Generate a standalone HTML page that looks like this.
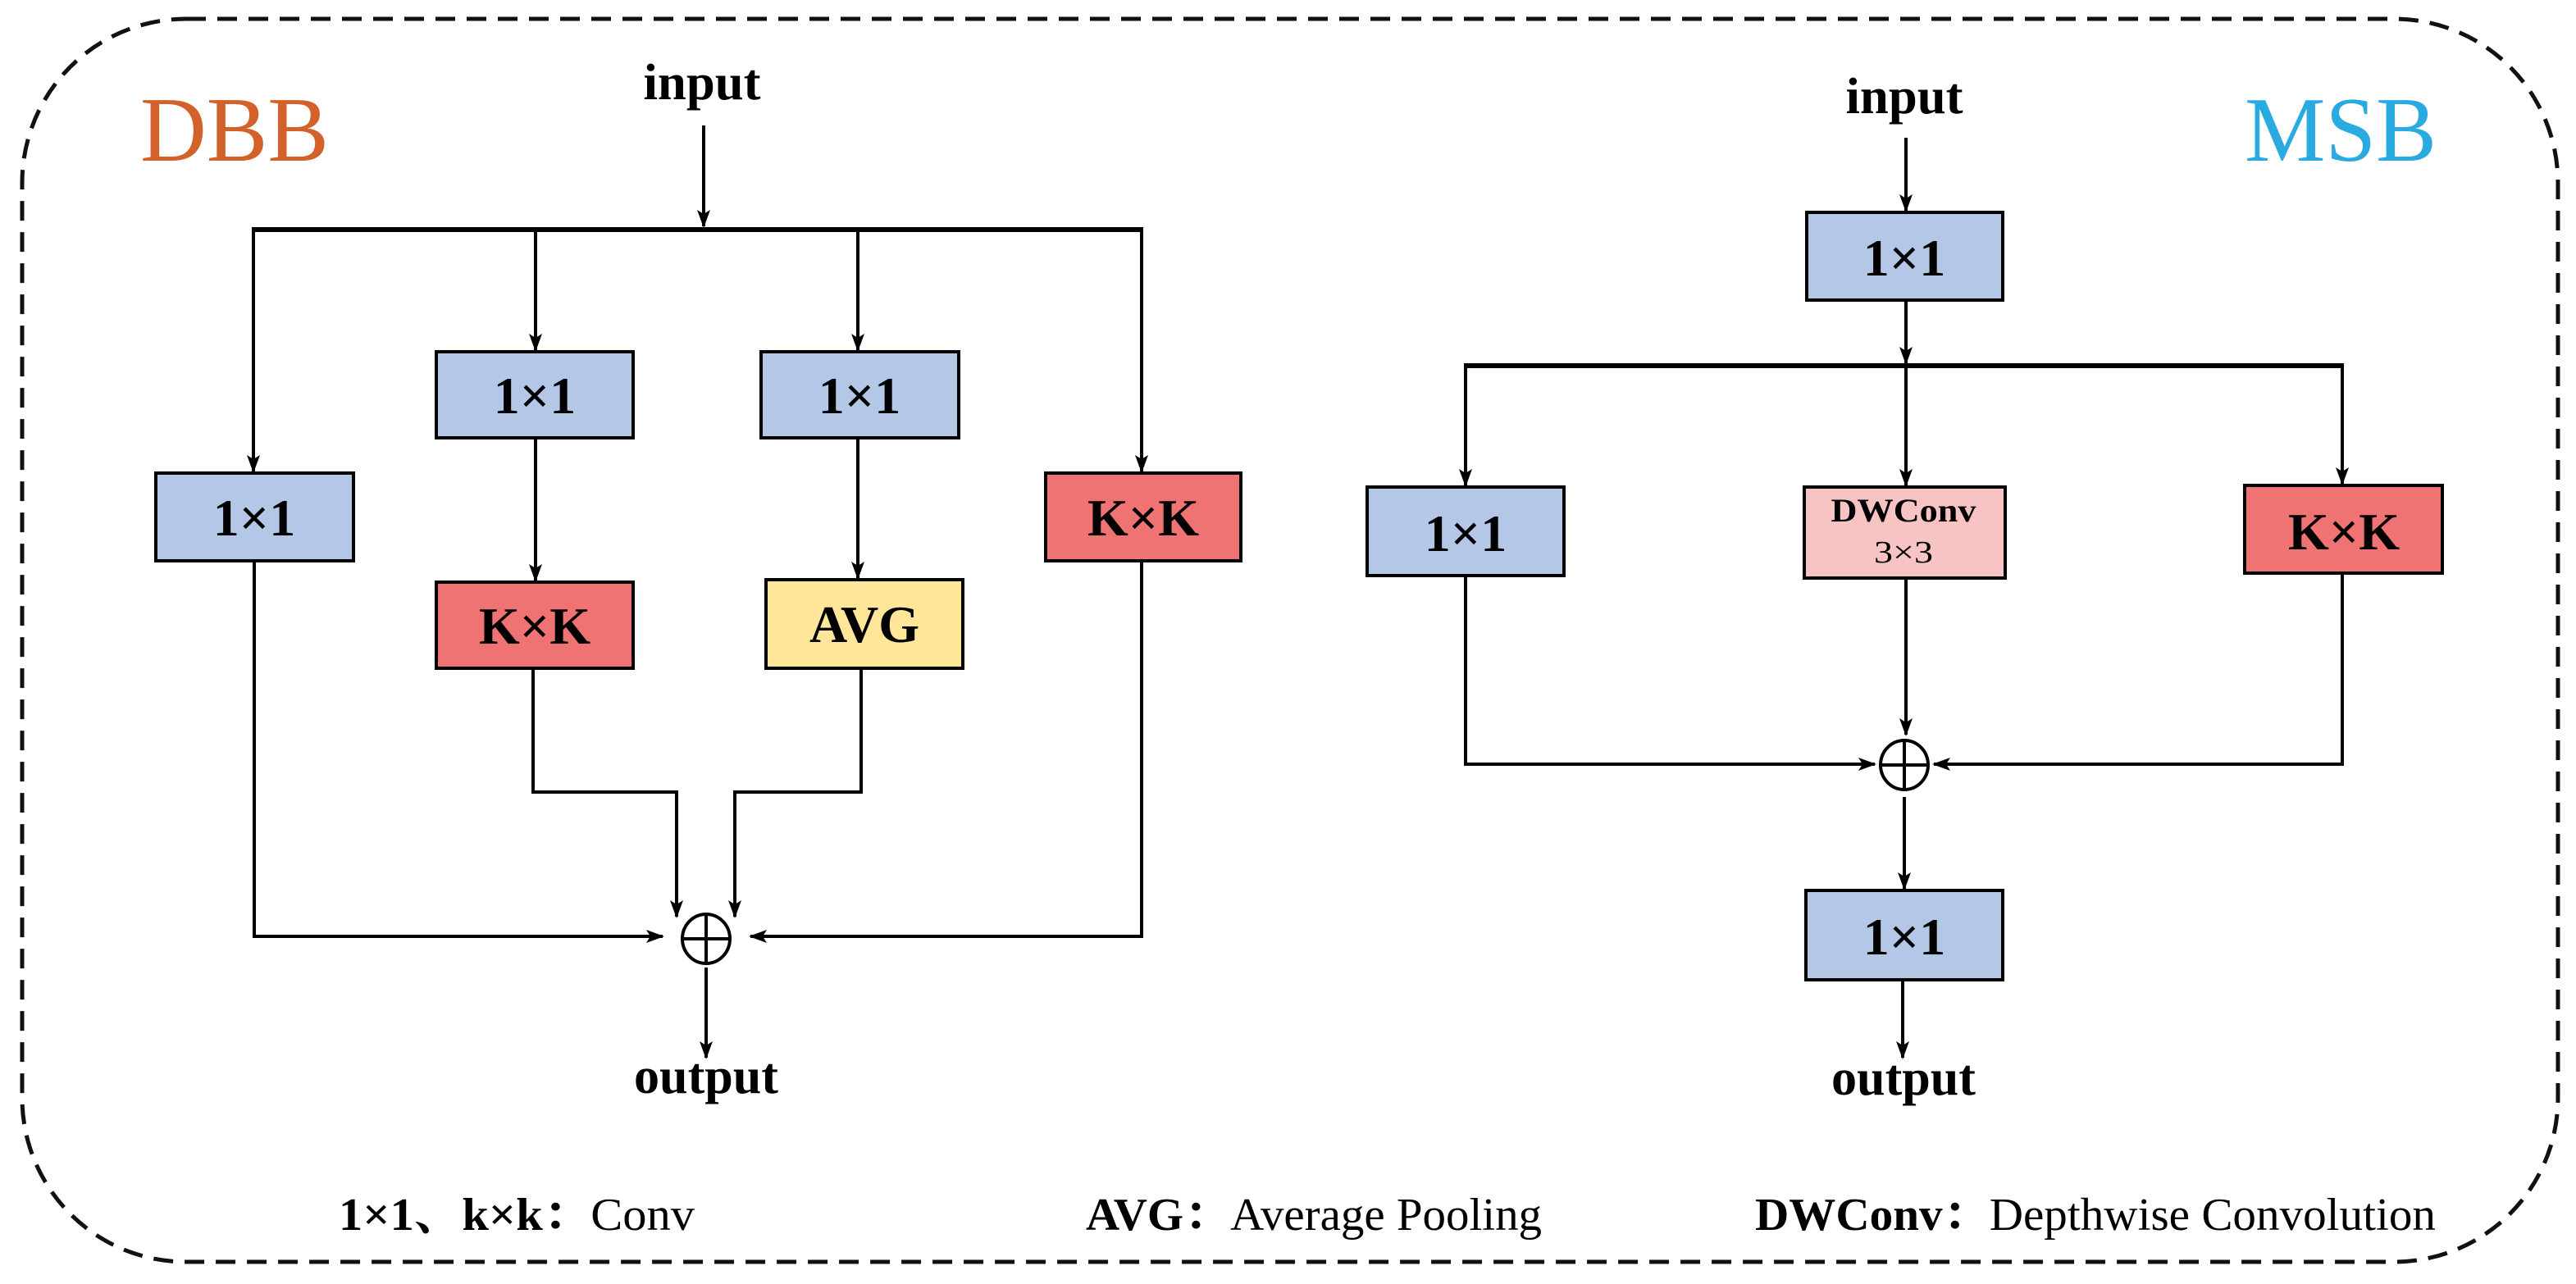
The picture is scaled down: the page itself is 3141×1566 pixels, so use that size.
<!DOCTYPE html>
<html><head><meta charset="utf-8"><style>
html,body{margin:0;padding:0;background:#fff;}
svg{display:block;}
text{font-family:"Liberation Serif","Noto Serif CJK SC",serif;}
</style></head><body>
<svg width="3141" height="1566" viewBox="0 0 3141 1566" xmlns="http://www.w3.org/2000/svg">
<defs>
<marker id="a" markerWidth="22" markerHeight="22" refX="20" refY="11" orient="auto" markerUnits="userSpaceOnUse">
<path d="M0,3 L22,11 L0,19 L5,11 Z" fill="#000"/>
</marker>
</defs>
<rect x="27" y="23" width="3092" height="1516" rx="200" ry="200" fill="none" stroke="#111" stroke-width="5" stroke-dasharray="24,14"/>

<text x="171" y="196" font-size="112" fill="#D2622A" textLength="230" lengthAdjust="spacingAndGlyphs">DBB</text>
<text x="856" y="121" font-size="62" font-weight="bold" text-anchor="middle" textLength="143" lengthAdjust="spacingAndGlyphs">input</text>
<g stroke="#000" stroke-width="4" fill="none">
<line x1="858" y1="153" x2="858" y2="276" marker-end="url(#a)"/>
<line x1="307" y1="280" x2="1394" y2="280" stroke-width="6"/>
<line x1="309" y1="280" x2="309" y2="575" marker-end="url(#a)"/>
<line x1="653" y1="280" x2="653" y2="427" marker-end="url(#a)"/>
<line x1="1046" y1="280" x2="1046" y2="427" marker-end="url(#a)"/>
<line x1="1392" y1="280" x2="1392" y2="575" marker-end="url(#a)"/>
<line x1="653" y1="534" x2="653" y2="708" marker-end="url(#a)"/>
<line x1="1046" y1="534" x2="1046" y2="705" marker-end="url(#a)"/>
<polyline points="310,684 310,1142 808,1142" marker-end="url(#a)"/>
<polyline points="1392,684 1392,1142 915,1142" marker-end="url(#a)"/>
<polyline points="650,815 650,966 825,966 825,1118" marker-end="url(#a)"/>
<polyline points="1050,815 1050,966 896,966 896,1118" marker-end="url(#a)"/>
<line x1="861" y1="1180" x2="861" y2="1290" marker-end="url(#a)"/>
<ellipse cx="861" cy="1145" rx="29" ry="30"/>
<line x1="832" y1="1145" x2="890" y2="1145"/>
<line x1="861" y1="1115" x2="861" y2="1175"/>
</g>
<g stroke="#000" stroke-width="4">
<rect x="532" y="429" width="240" height="105" fill="#B4C7E7"/>
<rect x="928" y="429" width="241" height="105" fill="#B4C7E7"/>
<rect x="190" y="577" width="241" height="107" fill="#B4C7E7"/>
<rect x="1275" y="577" width="238" height="107" fill="#F07373"/>
<rect x="532" y="710" width="240" height="105" fill="#F07373"/>
<rect x="934" y="707" width="240" height="108" fill="#FFE699"/>
</g>
<g font-size="64" font-weight="bold" text-anchor="middle">
<text x="652" y="504">1×1</text>
<text x="1048" y="504">1×1</text>
<text x="310" y="653">1×1</text>
<text x="1394" y="653">K×K</text>
<text x="652" y="785">K×K</text>
<text x="1054" y="783">AVG</text>
</g>
<text x="861" y="1333" font-size="62" font-weight="bold" text-anchor="middle" textLength="176" lengthAdjust="spacingAndGlyphs">output</text>

<text x="2737" y="196" font-size="112" fill="#29ABE2" textLength="234" lengthAdjust="spacingAndGlyphs">MSB</text>
<text x="2322" y="138" font-size="62" font-weight="bold" text-anchor="middle" textLength="143" lengthAdjust="spacingAndGlyphs">input</text>
<g stroke="#000" stroke-width="4" fill="none">
<line x1="2324" y1="168" x2="2324" y2="257" marker-end="url(#a)"/>
<line x1="2324" y1="366" x2="2324" y2="443" marker-end="url(#a)"/>
<line x1="1785" y1="446" x2="2858" y2="446" stroke-width="6"/>
<line x1="1787" y1="446" x2="1787" y2="592" marker-end="url(#a)"/>
<line x1="2324" y1="446" x2="2324" y2="592" marker-end="url(#a)"/>
<line x1="2856" y1="446" x2="2856" y2="590" marker-end="url(#a)"/>
<line x1="2324" y1="705" x2="2324" y2="896" marker-end="url(#a)"/>
<polyline points="1787,702 1787,932 2286,932" marker-end="url(#a)"/>
<polyline points="2856,699 2856,932 2358,932" marker-end="url(#a)"/>
<ellipse cx="2322" cy="933" rx="29" ry="30"/>
<line x1="2293" y1="933" x2="2351" y2="933"/>
<line x1="2322" y1="903" x2="2322" y2="963"/>
<line x1="2322" y1="972" x2="2322" y2="1084" marker-end="url(#a)"/>
<line x1="2320" y1="1195" x2="2320" y2="1290" marker-end="url(#a)"/>
</g>
<g stroke="#000" stroke-width="4">
<rect x="2203" y="259" width="239" height="107" fill="#B4C7E7"/>
<rect x="1667" y="594" width="240" height="108" fill="#B4C7E7"/>
<rect x="2200" y="594" width="245" height="111" fill="#F8C3C3"/>
<rect x="2737" y="592" width="241" height="107" fill="#F07373"/>
<rect x="2202" y="1086" width="240" height="109" fill="#B4C7E7"/>
</g>
<g font-size="64" font-weight="bold" text-anchor="middle">
<text x="2322" y="336">1×1</text>
<text x="1787" y="672">1×1</text>
<text x="2858" y="670">K×K</text>
<text x="2322" y="1164">1×1</text>
</g>
<text x="2321" y="636" font-size="40" font-weight="bold" text-anchor="middle" textLength="177" lengthAdjust="spacingAndGlyphs">DWConv</text>
<text x="2321" y="686" font-size="38" text-anchor="middle" textLength="72" lengthAdjust="spacingAndGlyphs">3×3</text>
<text x="2321" y="1335" font-size="62" font-weight="bold" text-anchor="middle" textLength="176" lengthAdjust="spacingAndGlyphs">output</text>

<g font-size="56">
<text x="413" y="1500" textLength="434" lengthAdjust="spacingAndGlyphs"><tspan font-weight="bold">1×1、k×k：</tspan><tspan>Conv</tspan></text>
<text x="1324" y="1500" textLength="556" lengthAdjust="spacingAndGlyphs"><tspan font-weight="bold">AVG：</tspan><tspan>Average Pooling</tspan></text>
<text x="2140" y="1500" textLength="830" lengthAdjust="spacingAndGlyphs"><tspan font-weight="bold">DWConv：</tspan><tspan>Depthwise Convolution</tspan></text>
</g>
</svg>
</body></html>
